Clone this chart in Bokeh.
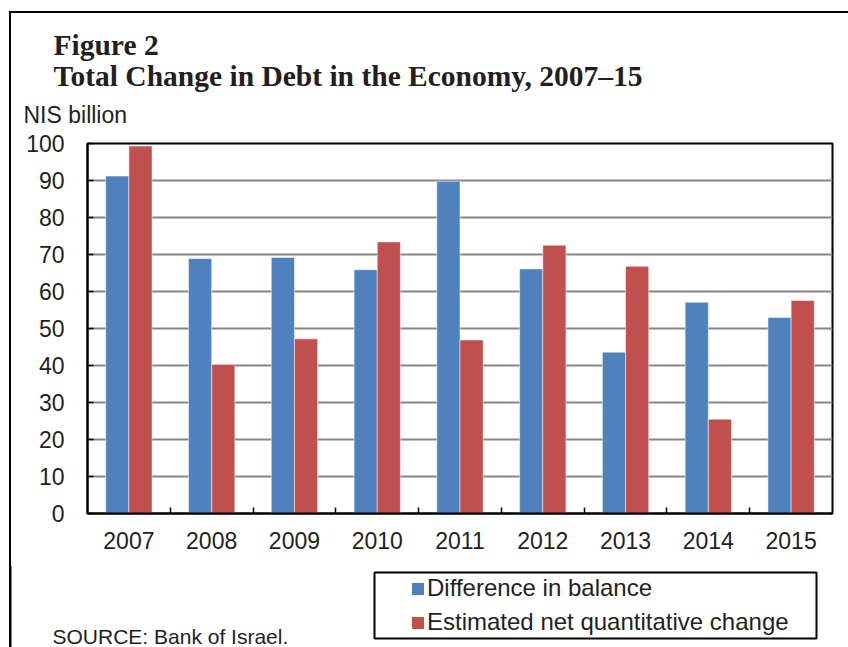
from bokeh.plotting import figure
from bokeh.layouts import column
from bokeh.models import (ColumnDataSource, Range1d, FixedTicker, Legend, Label,
                          LegendItem, Title, InlineStyleSheet, BoxAnnotation, Span)
from bokeh.transform import dodge
from bokeh.embed import file_html
from bokeh.resources import INLINE

years = ["2007", "2008", "2009", "2010", "2011", "2012", "2013", "2014", "2015"]
difference_in_balance = [91.2, 68.9, 69.2, 65.9, 89.8, 66.1, 43.6, 57.1, 53.0]
estimated_net_change = [99.3, 40.3, 47.2, 73.4, 46.9, 72.5, 66.8, 25.5, 57.6]
y_ticks = [0, 10, 20, 30, 40, 50, 60, 70, 80, 90, 100]
series_names = ["Difference in balance", "Estimated net quantitative change"]

BLUE = "#4F81BD"
RED = "#C0504D"
TXT = "#231F20"
SANS = "Liberation Sans"
SERIF = "Liberation Serif"

W = 848
H1 = 565          # main chart height
H2 = 647 - H1     # legend / source strip
FL, FR, FT, FB = 87, 832, 143, 513

xpos = list(range(len(years)))
src = ColumnDataSource(dict(x=xpos, blue=difference_in_balance, red=estimated_net_change))

p = figure(width=W, height=H1, output_backend="svg", toolbar_location=None,
           x_range=Range1d(-0.5, len(years) - 0.5), y_range=Range1d(0, 100),
           min_border_left=FL, min_border_right=W - FR,
           min_border_top=FT, min_border_bottom=H1 - FB)
p.background_fill_color = "white"
p.border_fill_color = "white"
p.outline_line_color = "black"
p.outline_line_width = 2

p.vbar(x=dodge("x", -0.14, range=p.x_range), top="blue", width=0.28, source=src,
       fill_color=BLUE, line_color="white", line_alpha=0.5, line_width=1)
p.vbar(x=dodge("x", 0.14, range=p.x_range), top="red", width=0.28, source=src,
       fill_color=RED, line_color="white", line_alpha=0.5, line_width=1)

# x axis
p.xaxis.ticker = FixedTicker(ticks=xpos, minor_ticks=[i + 0.5 for i in xpos[:-1]])
p.xaxis.major_label_overrides = {i: y for i, y in enumerate(years)}
p.xaxis.major_tick_in = 0
p.xaxis.major_tick_out = 0
p.xaxis.minor_tick_in = 6
p.xaxis.minor_tick_out = 0
p.xaxis.minor_tick_line_color = "black"
p.xaxis.minor_tick_line_width = 1.5
p.xaxis.axis_line_width = 2
p.xaxis.axis_line_color = "black"
p.xaxis.major_label_text_font = SANS
p.xaxis.major_label_text_font_size = "23px"
p.xaxis.major_label_text_color = TXT
p.xaxis.major_label_standoff = 18

# y axis
p.yaxis.ticker = FixedTicker(ticks=y_ticks, minor_ticks=[])
p.yaxis.major_tick_in = 6
p.yaxis.major_tick_out = 0
p.yaxis.major_tick_line_color = "black"
p.yaxis.major_tick_line_width = 1.5
p.yaxis.axis_line_width = 2
p.yaxis.axis_line_color = "black"
p.yaxis.major_label_text_font = SANS
p.yaxis.major_label_text_font_size = "23px"
p.yaxis.major_label_text_color = TXT
p.yaxis.major_label_standoff = 23

p.xgrid.grid_line_color = None
p.ygrid.grid_line_color = "#868686"
p.ygrid.grid_line_width = 2

# titles (above panel, stacked outward from the frame)
def title(text, font, size, style, x, standoff):
    p.add_layout(Title(text=text, text_font=font, text_font_size=size,
                       text_font_style=style, text_color=TXT, align="left",
                       vertical_align="bottom", offset=x - FL, standoff=standoff), "above")

title("NIS billion", SANS, "23px", "normal", 23, 30.2)
title("Total Change in Debt in the Economy, 2007\u201315", SERIF, "29.5px", "bold", 53, -12.6)
title("Figure 2", SERIF, "29.5px", "bold", 53, 7.2)

p.stylesheets = [InlineStyleSheet(css="""
:host { position: relative; }
:host::before {
  content: ""; position: absolute; left: 9px; top: 11px;
  width: 839px; height: 554px; box-sizing: border-box;
  border-left: 2px solid black; border-top: 2px solid black;
  pointer-events: none; z-index: 10;
}
""")]

# bottom strip: legend and source note
q = figure(width=W, height=H2, output_backend="svg", toolbar_location=None,
           x_range=Range1d(0, W), y_range=Range1d(H2, 0),
           x_axis_location=None, y_axis_location=None, min_border=0)
for fig in (p, q):
    fig.frame_align = False
q.grid.visible = False
q.outline_line_color = None
q.background_fill_color = "white"
q.border_fill_color = "white"
q.stylesheets = [InlineStyleSheet(css="""
:host { position: relative; }
:host::before {
  content: ""; position: absolute; left: 9px; top: 0px;
  width: 2px; height: 82px; background: black;
  pointer-events: none; z-index: 10;
}
""")]

# legend proxies: same series, drawn on a range that keeps them out of view
q.extra_x_ranges = {"offview": Range1d(-200, -100)}
d1 = q.vbar(x="x", top="blue", width=0.28, source=src, x_range_name="offview",
            fill_color=BLUE, line_color=None)
d2 = q.vbar(x="x", top="red", width=0.28, source=src, x_range_name="offview",
            fill_color=RED, line_color=None)

legend = Legend(items=[LegendItem(label=series_names[0], renderers=[d1]),
                       LegendItem(label=series_names[1], renderers=[d2])],
                location=(410, 11), orientation="vertical",
                border_line_color=None, background_fill_alpha=0,
                padding=0, margin=0, spacing=6,
                glyph_width=15, glyph_height=15, label_height=22, label_standoff=2,
                label_text_font=SANS, label_text_font_size="24px", label_text_color=TXT)
q.add_layout(legend)
q.add_layout(BoxAnnotation(left=374, right=816, top=572 - H1, bottom=638 - H1,
                           fill_alpha=0, line_color="black", line_alpha=1, line_width=2))
q.add_layout(Span(location=10, dimension="height", line_color="black", line_width=2))
q.add_layout(Label(text="SOURCE: Bank of Israel.", x=52, y=636 - H1,
                   text_font=SANS, text_font_size="21px", text_color=TXT,
                   text_baseline="alphabetic", text_align="left"))

layout = column(p, q, spacing=0)
open("out.html", "w").write(file_html(layout, INLINE))
